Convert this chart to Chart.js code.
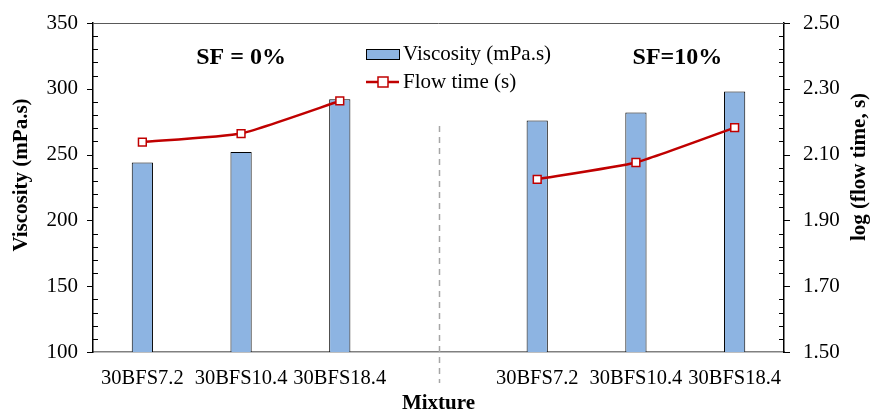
<!DOCTYPE html>
<html>
<head>
<meta charset="utf-8">
<script src="https://cdn.jsdelivr.net/npm/chart.js@4.4.0/dist/chart.umd.min.js"></script>
<style>
  html, body { margin: 0; padding: 0; background: #fff; }
  #wrap { width: 871px; height: 412px; }
</style>
</head>
<body>
<div id="wrap"><canvas id="chart"></canvas></div>
<script>
const categories = ["30BFS7.2", "30BFS10.4", "30BFS18.4", "", "30BFS7.2", "30BFS10.4", "30BFS18.4"];
const viscosity = [244, 252, 292, null, 276, 282, 298];
const flowTime = [2.138, 2.164, 2.263, null, 2.025, 2.076, 2.182];
const groupLabels = ["SF = 0%", "SF=10%"];
const groupLabelAt = [1, 5.42];
const axisTitles = { x: "Mixture", y: "Viscosity (mPa.s)", y1: "log (flow time, s)" };

const serif = "'Liberation Serif', 'Times New Roman', serif";

// tick marks, frame, divider, axis titles, group labels and legend
const decorPlugin = {
  id: "decor",
  afterDraw(chart) {
    const ctx = chart.ctx;
    const area = chart.chartArea;
    const yL = chart.scales.y;
    const yR = chart.scales.y1;
    const x = chart.scales.x;
    ctx.save();

    // top border
    ctx.strokeStyle = "#595959";
    ctx.lineWidth = 1;
    ctx.beginPath();
    ctx.moveTo(area.left, area.top + 0.5);
    ctx.lineTo(area.right, area.top + 0.5);
    ctx.stroke();

    // left axis ticks
    ctx.strokeStyle = "#000";
    ctx.beginPath();
    for (let v = 100; v <= 350; v += 10) {
      const py = Math.round(yL.getPixelForValue(v)) + 0.5;
      if (v % 50 === 0) {
        ctx.moveTo(area.left - 6, py);
        ctx.lineTo(area.left, py);
      } else {
        ctx.moveTo(area.left, py);
        ctx.lineTo(area.left + 5, py);
      }
    }
    // right axis ticks
    for (let i = 0; i <= 25; i++) {
      const v = 1.5 + i * 0.04;
      const py = Math.round(yR.getPixelForValue(v)) + 0.5;
      if (i % 5 === 0) {
        ctx.moveTo(area.right, py);
        ctx.lineTo(area.right + 6, py);
      } else {
        ctx.moveTo(area.right - 5, py);
        ctx.lineTo(area.right, py);
      }
    }
    ctx.stroke();

    // dashed divider between groups
    const dx = Math.round(x.getPixelForValue(3)) + 0.5;
    ctx.strokeStyle = "#a6a6a6";
    ctx.lineWidth = 1.5;
    ctx.setLineDash([6, 5]);
    ctx.beginPath();
    ctx.moveTo(dx, area.top + 103);
    ctx.lineTo(dx, area.bottom + 31);
    ctx.stroke();
    ctx.setLineDash([]);

    // axis titles
    ctx.fillStyle = "#000";
    ctx.font = "bold 21px " + serif;
    ctx.textAlign = "center";
    ctx.textBaseline = "middle";
    ctx.fillText(axisTitles.x, (area.left + area.right) / 2, 404);
    ctx.save();
    ctx.translate(22, 175);
    ctx.rotate(-Math.PI / 2);
    ctx.fillText(axisTitles.y, 0, 0);
    ctx.restore();
    ctx.save();
    ctx.translate(860, 167);
    ctx.rotate(-Math.PI / 2);
    ctx.fillText(axisTitles.y1, 0, 0);
    ctx.restore();

    // group labels
    ctx.font = "bold 24px " + serif;
    groupLabels.forEach((t, i) => {
      ctx.fillText(t, x.getPixelForValue(groupLabelAt[i]), area.top + 35);
    });

    // legend
    const lx = area.left + 273;
    const ly1 = area.top + 31;
    const ly2 = area.top + 59;
    const bar = chart.data.datasets[0];
    const line = chart.data.datasets[1];
    ctx.fillStyle = bar.backgroundColor;
    ctx.fillRect(lx, ly1 - 5, 33, 10);
    ctx.strokeStyle = "#000";
    ctx.lineWidth = 1;
    ctx.strokeRect(lx + 0.5, ly1 - 5 + 0.5, 33, 10);
    ctx.strokeStyle = line.borderColor;
    ctx.lineWidth = 2.5;
    ctx.beginPath();
    ctx.moveTo(lx, ly2);
    ctx.lineTo(lx + 33, ly2);
    ctx.stroke();
    ctx.fillStyle = "#fff";
    ctx.lineWidth = 1.5;
    ctx.fillRect(lx + 12, ly2 - 5, 10, 10);
    ctx.strokeRect(lx + 12, ly2 - 5, 10, 10);
    ctx.fillStyle = "#000";
    ctx.font = "21px " + serif;
    ctx.textAlign = "left";
    ctx.fillText(bar.label, lx + 37, ly1);
    ctx.fillText(line.label, lx + 37, ly2);

    ctx.restore();
  }
};

function fixVertical(width) {
  return function (scale) {
    scale.width = width;
    scale.paddingTop = 0;
    scale.paddingBottom = 0;
  };
}

const ctx = document.getElementById("chart").getContext("2d");
new Chart(ctx, {
  data: {
    labels: categories,
    datasets: [
      {
        type: "bar",
        label: "Viscosity (mPa.s)",
        data: viscosity,
        yAxisID: "y",
        backgroundColor: "#8db4e2",
        borderColor: "#000",
        borderWidth: 1,
        barPercentage: 0.215,
        categoryPercentage: 1,
        order: 2
      },
      {
        type: "line",
        label: "Flow time (s)",
        data: flowTime,
        yAxisID: "y1",
        borderColor: "#c00000",
        borderWidth: 2.5,
        tension: 0.15,
        spanGaps: false,
        pointStyle: "rect",
        pointRadius: 5.5,
        pointBackgroundColor: "#fff",
        pointBorderColor: "#c00000",
        pointBorderWidth: 1.5,
        order: 1
      }
    ]
  },
  options: {
    responsive: true,
    maintainAspectRatio: false,
    animation: false,
    layout: { padding: { top: 23, left: 0, right: 0, bottom: 0 } },
    plugins: {
      legend: { display: false },
      tooltip: { enabled: false }
    },
    scales: {
      x: {
        grid: { display: true, drawOnChartArea: false, drawTicks: false },
        border: { color: "#808080", width: 1.5 },
        ticks: { color: "#000", font: { family: serif, size: 20.5 }, padding: 14, maxRotation: 0, autoSkip: false },
        afterFit(scale) {
          scale.height = 60;
          scale.paddingLeft = 0;
          scale.paddingRight = 0;
        }
      },
      y: {
        position: "left",
        min: 100,
        max: 350,
        grid: { display: true, drawOnChartArea: false, drawTicks: false },
        border: { color: "#000", width: 1.5 },
        ticks: { stepSize: 50, color: "#000", font: { family: serif, size: 21 }, padding: 15 },
        afterFit: fixVertical(93)
      },
      y1: {
        position: "right",
        min: 1.5,
        max: 2.5,
        grid: { display: true, drawOnChartArea: false, drawTicks: false },
        border: { color: "#000", width: 1.5 },
        ticks: { stepSize: 0.2, color: "#000", font: { family: serif, size: 21 }, padding: 19, callback: v => v.toFixed(2) },
        afterFit: fixVertical(87)
      }
    }
  },
  plugins: [decorPlugin]
});
</script>
</body>
</html>
